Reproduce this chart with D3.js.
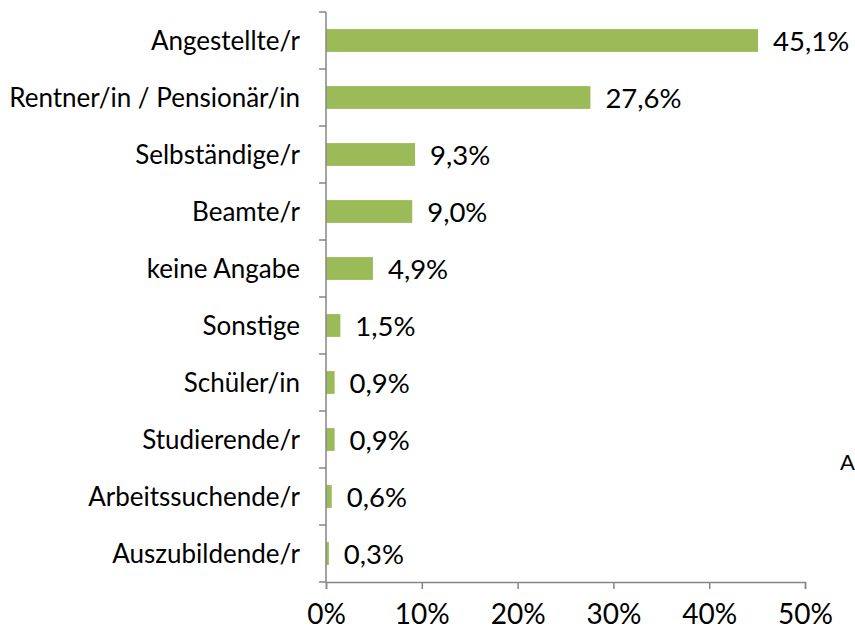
<!DOCTYPE html>
<html>
<head>
<meta charset="utf-8">
<script src="https://cdn.jsdelivr.net/npm/d3@7"></script>
<style>
  body { margin: 0; background: #fff; }
  svg { display: block; font-family: Lato, "Open Sans", sans-serif; }
</style>
</head>
<body>
<svg id="vis1" width="855" height="636"></svg>
<script>
// Berufsgruppen, Anteil in Prozent
var categories = ["Angestellte/r", "Rentner/in / Pensionär/in", "Selbständige/r", "Beamte/r",
  "keine Angabe", "Sonstige", "Schüler/in", "Studierende/r", "Arbeitssuchende/r", "Auszubildende/r"];
var values = [45.1, 27.6, 9.3, 9.0, 4.9, 1.5, 0.9, 0.9, 0.6, 0.3];
var tickValues = [0, 10, 20, 30, 40, 50];

var svg = d3.select("#vis1");

var margin = { top: 12, right: 50, bottom: 54, left: 326 };
var plotHeight = 636 - margin.top - margin.bottom;

var xScale = d3.scaleLinear().domain([0, 50]).range([0, 479]);
var yScale = d3.scaleBand().domain(categories).range([0, plotHeight]).paddingInner(0.6).paddingOuter(0.3);

var plot = svg.append("g").attr("transform", "translate(" + margin.left + "," + margin.top + ")");

plot.selectAll("rect.bar")
  .data(values)
  .enter().append("rect")
  .attr("class", "bar")
  .attr("x", 0)
  .attr("y", function(d, i) { return yScale(categories[i]); })
  .attr("width", function(d) { return xScale(d); })
  .attr("height", yScale.bandwidth())
  .attr("fill", "#9bbb59");

// value labels
plot.selectAll("text.val")
  .data(values)
  .enter().append("text")
  .attr("class", "val")
  .attr("x", function(d) { return xScale(d) + 15; })
  .attr("y", function(d, i) { return yScale(categories[i]) + yScale.bandwidth() / 2; })
  .attr("dy", "0.38em")
  .attr("font-size", 27.5)
  .attr("fill", "#000")
  .text(function(d) { return d.toFixed(1).replace(".", ",") + "%"; });

// y axis with ticks between categories
var axisColor = "#868686";
plot.append("line")
  .attr("x1", 0).attr("x2", 0).attr("y1", 0).attr("y2", plotHeight)
  .attr("stroke", axisColor).attr("stroke-width", 1.5);

var step = yScale.step();
plot.selectAll("line.ytick")
  .data(d3.range(categories.length + 1))
  .enter().append("line")
  .attr("class", "ytick")
  .attr("x1", -7).attr("x2", 0)
  .attr("y1", function(i) { return i * step; })
  .attr("y2", function(i) { return i * step; })
  .attr("stroke", axisColor).attr("stroke-width", 1.5);

plot.selectAll("text.cat")
  .data(categories)
  .enter().append("text")
  .attr("class", "cat")
  .attr("x", -26)
  .attr("y", function(d) { return yScale(d) + yScale.bandwidth() / 2; })
  .attr("dy", "0.36em")
  .attr("text-anchor", "end")
  .attr("font-size", 26)
  .attr("fill", "#000")
  .text(function(d) { return d; });

// x axis
var xAxis = d3.axisBottom(xScale)
  .tickValues(tickValues)
  .tickSize(7)
  .tickPadding(15)
  .tickFormat(function(d) { return d + "%"; });
var xGroup = plot.append("g")
  .attr("transform", "translate(0," + plotHeight + ")")
  .call(xAxis);
xGroup.select(".domain").attr("stroke", axisColor).attr("stroke-width", 1.5);
xGroup.selectAll(".tick line").attr("stroke", axisColor).attr("stroke-width", 1.5);
xGroup.selectAll(".tick text")
  .attr("font-family", "Lato, 'Open Sans', sans-serif")
  .attr("font-size", 28)
  .attr("fill", "#000");

// partly visible text at the right edge
svg.append("text")
  .attr("x", 840).attr("y", 470)
  .attr("font-size", 22)
  .attr("fill", "#000")
  .text("A");
</script>
</body>
</html>
